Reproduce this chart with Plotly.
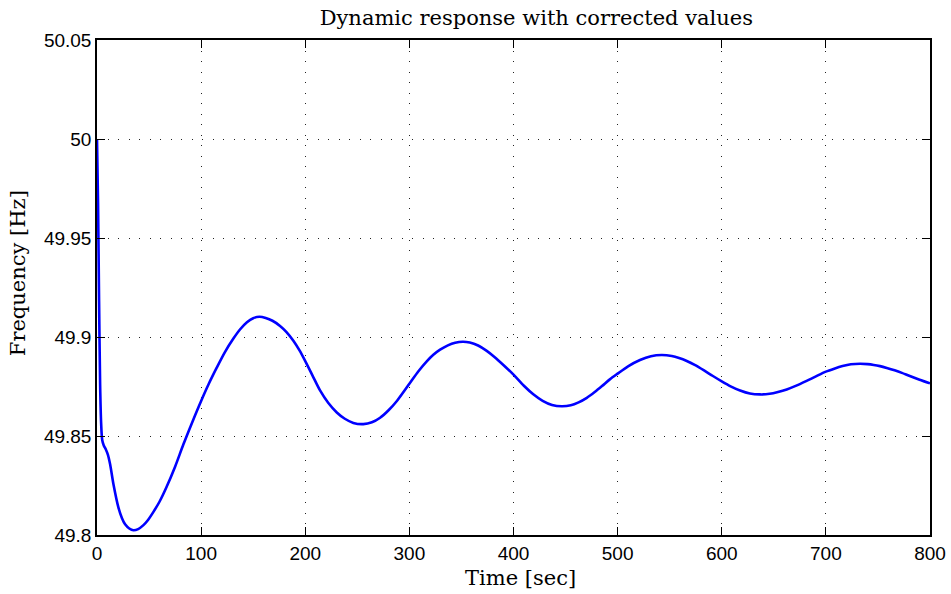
import plotly.graph_objects as go

# Time [sec]
time_s = [0, 1, 2, 3, 4, 5, 6.5, 8.5, 10.5, 12.6, 15.8, 20.6, 24, 27, 31, 35, 39.5, 44.6,
          49, 54.2, 60, 67, 75, 83, 91.5, 100, 107.5, 115, 123, 131, 137.5, 144, 150, 156,
          162, 168.5, 175.8, 182, 188.6, 194.5, 200.5, 207, 214.2, 222, 230.3, 238, 246.2,
          255.8, 264, 271.9, 280, 288, 300.7, 308.5, 316.7, 323, 329.5, 337, 344, 351.3,
          358, 366, 374.3, 382, 390, 400, 410, 419, 428, 437, 446.3, 455, 462.5, 470.4,
          478, 485, 492.5, 500, 510, 521.5, 532, 542.4, 552, 559, 566.4, 574, 583, 591.5,
          600, 608.5, 617.6, 627, 636.8, 646, 654, 662.4, 671, 681, 690, 700, 708, 716,
          724, 732.8, 740, 746, 752, 758.5, 766, 773, 780, 790, 800]
# Frequency [Hz]
freq_hz = [50.000, 49.968, 49.918, 49.876, 49.856, 49.848, 49.8452, 49.8432, 49.8405,
           49.8357, 49.8256, 49.8138, 49.8085, 49.8054, 49.8033, 49.8024, 49.8030, 49.8050,
           49.8076, 49.8117, 49.8168, 49.8245, 49.8345, 49.8458, 49.8570, 49.8677, 49.8765,
           49.8845, 49.8925, 49.8992, 49.9039, 49.9075, 49.9095, 49.9102, 49.9096, 49.9082,
           49.9056, 49.9025, 49.8981, 49.8932, 49.8873, 49.8805, 49.8730, 49.8668, 49.8619,
           49.8587, 49.8566, 49.8560, 49.8569, 49.8592, 49.8630, 49.8677, 49.8769, 49.8826,
           49.8877, 49.8910, 49.8936, 49.8958, 49.8971, 49.8976, 49.8972, 49.8957, 49.8930,
           49.8898, 49.8860, 49.8810, 49.8754, 49.8711, 49.8678, 49.8657, 49.8650, 49.8655,
           49.8670, 49.8693, 49.8722, 49.8752, 49.8786, 49.8815, 49.8852, 49.8884, 49.8903,
           49.8909, 49.8904, 49.8894, 49.8879, 49.8859, 49.8831, 49.8803, 49.8776, 49.8751,
           49.8730, 49.8715, 49.8710, 49.8713, 49.8722, 49.8735, 49.8753, 49.8777, 49.8800,
           49.8825, 49.8840, 49.8853, 49.8862, 49.8865, 49.8863, 49.8859, 49.8853, 49.8844,
           49.8832, 49.8819, 49.8804, 49.8784, 49.8766]

x_ticks = [0, 100, 200, 300, 400, 500, 600, 700, 800]
y_ticks = [49.8, 49.85, 49.9, 49.95, 50.0, 50.05]
y_tick_text = ["49.8", "49.85", "49.9", "49.95", "50", "50.05"]

title_text = "Dynamic response with corrected values"
x_title = "Time [sec]"
y_title = "Frequency [Hz]"

serif = "DejaVu Serif"
sans = "Liberation Sans, Arial, sans-serif"

fig = go.Figure()
fig.add_trace(go.Scatter(x=time_s, y=freq_hz, mode="lines",
                         line=dict(color="#0000FF", width=2.6, shape="spline", smoothing=0.8),
                         showlegend=False))

axis_common = dict(
    showline=True, linecolor="black", linewidth=1.5, mirror="ticks",
    ticks="inside", ticklen=8, tickcolor="black", tickwidth=1,
    showgrid=True, gridcolor="#222222", gridwidth=1, griddash="1px,9.5px",
    zeroline=False, automargin=False,
    tickfont=dict(family=sans, size=19, color="black"),
)

fig.update_xaxes(range=[0, 800], tickvals=x_ticks, **axis_common)
fig.update_yaxes(range=[49.8, 50.05], tickvals=y_ticks, ticktext=y_tick_text, **axis_common)

label_font = dict(family=serif, size=21, color="black")
fig.update_layout(
    width=951, height=594,
    margin=dict(l=97, r=21, t=40, b=59, autoexpand=False),
    paper_bgcolor="white", plot_bgcolor="white",
    title=dict(text=title_text, font=label_font,
               xref="container", x=0.564, xanchor="center",
               yref="container", y=0.971, yanchor="middle"),
    annotations=[
        dict(text=x_title, font=label_font, showarrow=False,
             xref="paper", yref="paper", x=0.508, y=-0.087,
             xanchor="center", yanchor="middle"),
        dict(text=y_title, font=label_font, showarrow=False, textangle=-90,
             xref="paper", yref="paper", x=-0.0948, y=0.529,
             xanchor="center", yanchor="middle"),
    ],
)

fig.write_html("out.html")
